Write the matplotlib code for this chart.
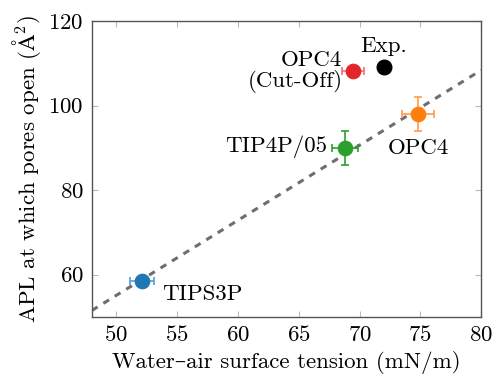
import numpy as np
import matplotlib
matplotlib.use("Agg")
import matplotlib.pyplot as plt

# --------------------------------------------------
# Data
# --------------------------------------------------

models = ["TIPS3P", "TIP4P/05", "OPC4", "OPC4\n(Cut-Off)"]
tension = [52.1, 68.8, 74.8, 69.5]
tension_err = [1.0, 1.1, 1.3, 0.9]
apl = [58.4, 90.0, 98.0, 108.1]
apl_err = [0.8, 4.0, 4.0, 1.0]
colors = ["#1f77b4", "#2ca02c", "#ff7f0e", "#e3242b"]
err_colors = ["#5b9bd5", "#2ca02c", "#ff9a4d", "#f07070"]

exp_tension = 72.0
exp_apl = 109.0

# linear fit through the three full simulations (no cut-off)
fit_models = [0, 1, 2]

label_pos = [(53.8, 55.3, "left"), (67.3, 90.2, "right"),
             (72.3, 90.0, "left"), (68.6, 108.0, "right")]

# --------------------------------------------------
# Style
# --------------------------------------------------

plt.rcParams["font.family"] = ["cmr10", "DejaVu Serif"]
plt.rcParams["mathtext.fontset"] = "cm"
plt.rcParams["axes.formatter.use_mathtext"] = True
plt.rcParams["font.size"] = 16.5

fig, ax = plt.subplots(figsize=(4.94, 3.75), dpi=100)
fig.subplots_adjust(left=0.186, right=0.974, top=0.944, bottom=0.155)

# fit line
fx = np.array(tension)[fit_models]
fy = np.array(apl)[fit_models]
slope, icpt = np.polyfit(fx, fy, 1)
xx = np.array([48, 80])
ax.plot(xx, slope * xx + icpt, ls=(0, (2.2, 2.2)), color="#6e6e6e", lw=2.2, zorder=1)

for i in range(len(models)):
    ax.errorbar(tension[i], apl[i], xerr=tension_err[i], yerr=apl_err[i],
                fmt="none", ecolor=err_colors[i], elinewidth=1.2,
                capsize=3, capthick=1.2, zorder=2)
    ax.plot(tension[i], apl[i], "o", ms=10.5, color=colors[i],
            mec=colors[i], mew=0.8, zorder=3)
    lx, ly, ha = label_pos[i]
    ax.text(lx, ly, models[i], ha=ha, va="center", multialignment="right",
            linespacing=1.0)

ax.plot(exp_tension, exp_apl, "o", ms=10.5, color="black", zorder=3)
ax.text(72.0, 111.8, "Exp.", ha="center", va="bottom")

ax.set_xlim(48, 80)
ax.set_ylim(50, 120)
ax.set_xticks([50, 55, 60, 65, 70, 75, 80])
ax.set_yticks([60, 80, 100, 120])
ax.tick_params(direction="in", length=4, color="#bbbbbb", top=True, right=True, pad=6)
for s in ax.spines.values():
    s.set_color("#555555")
    s.set_linewidth(1.0)

ax.set_xlabel("Water\u2013air surface tension (mN/m)", labelpad=4)
ax.set_ylabel(r"APL at which pores open ($\mathrm{\AA}^2$)", labelpad=4)

plt.savefig("out.png", dpi=100)
